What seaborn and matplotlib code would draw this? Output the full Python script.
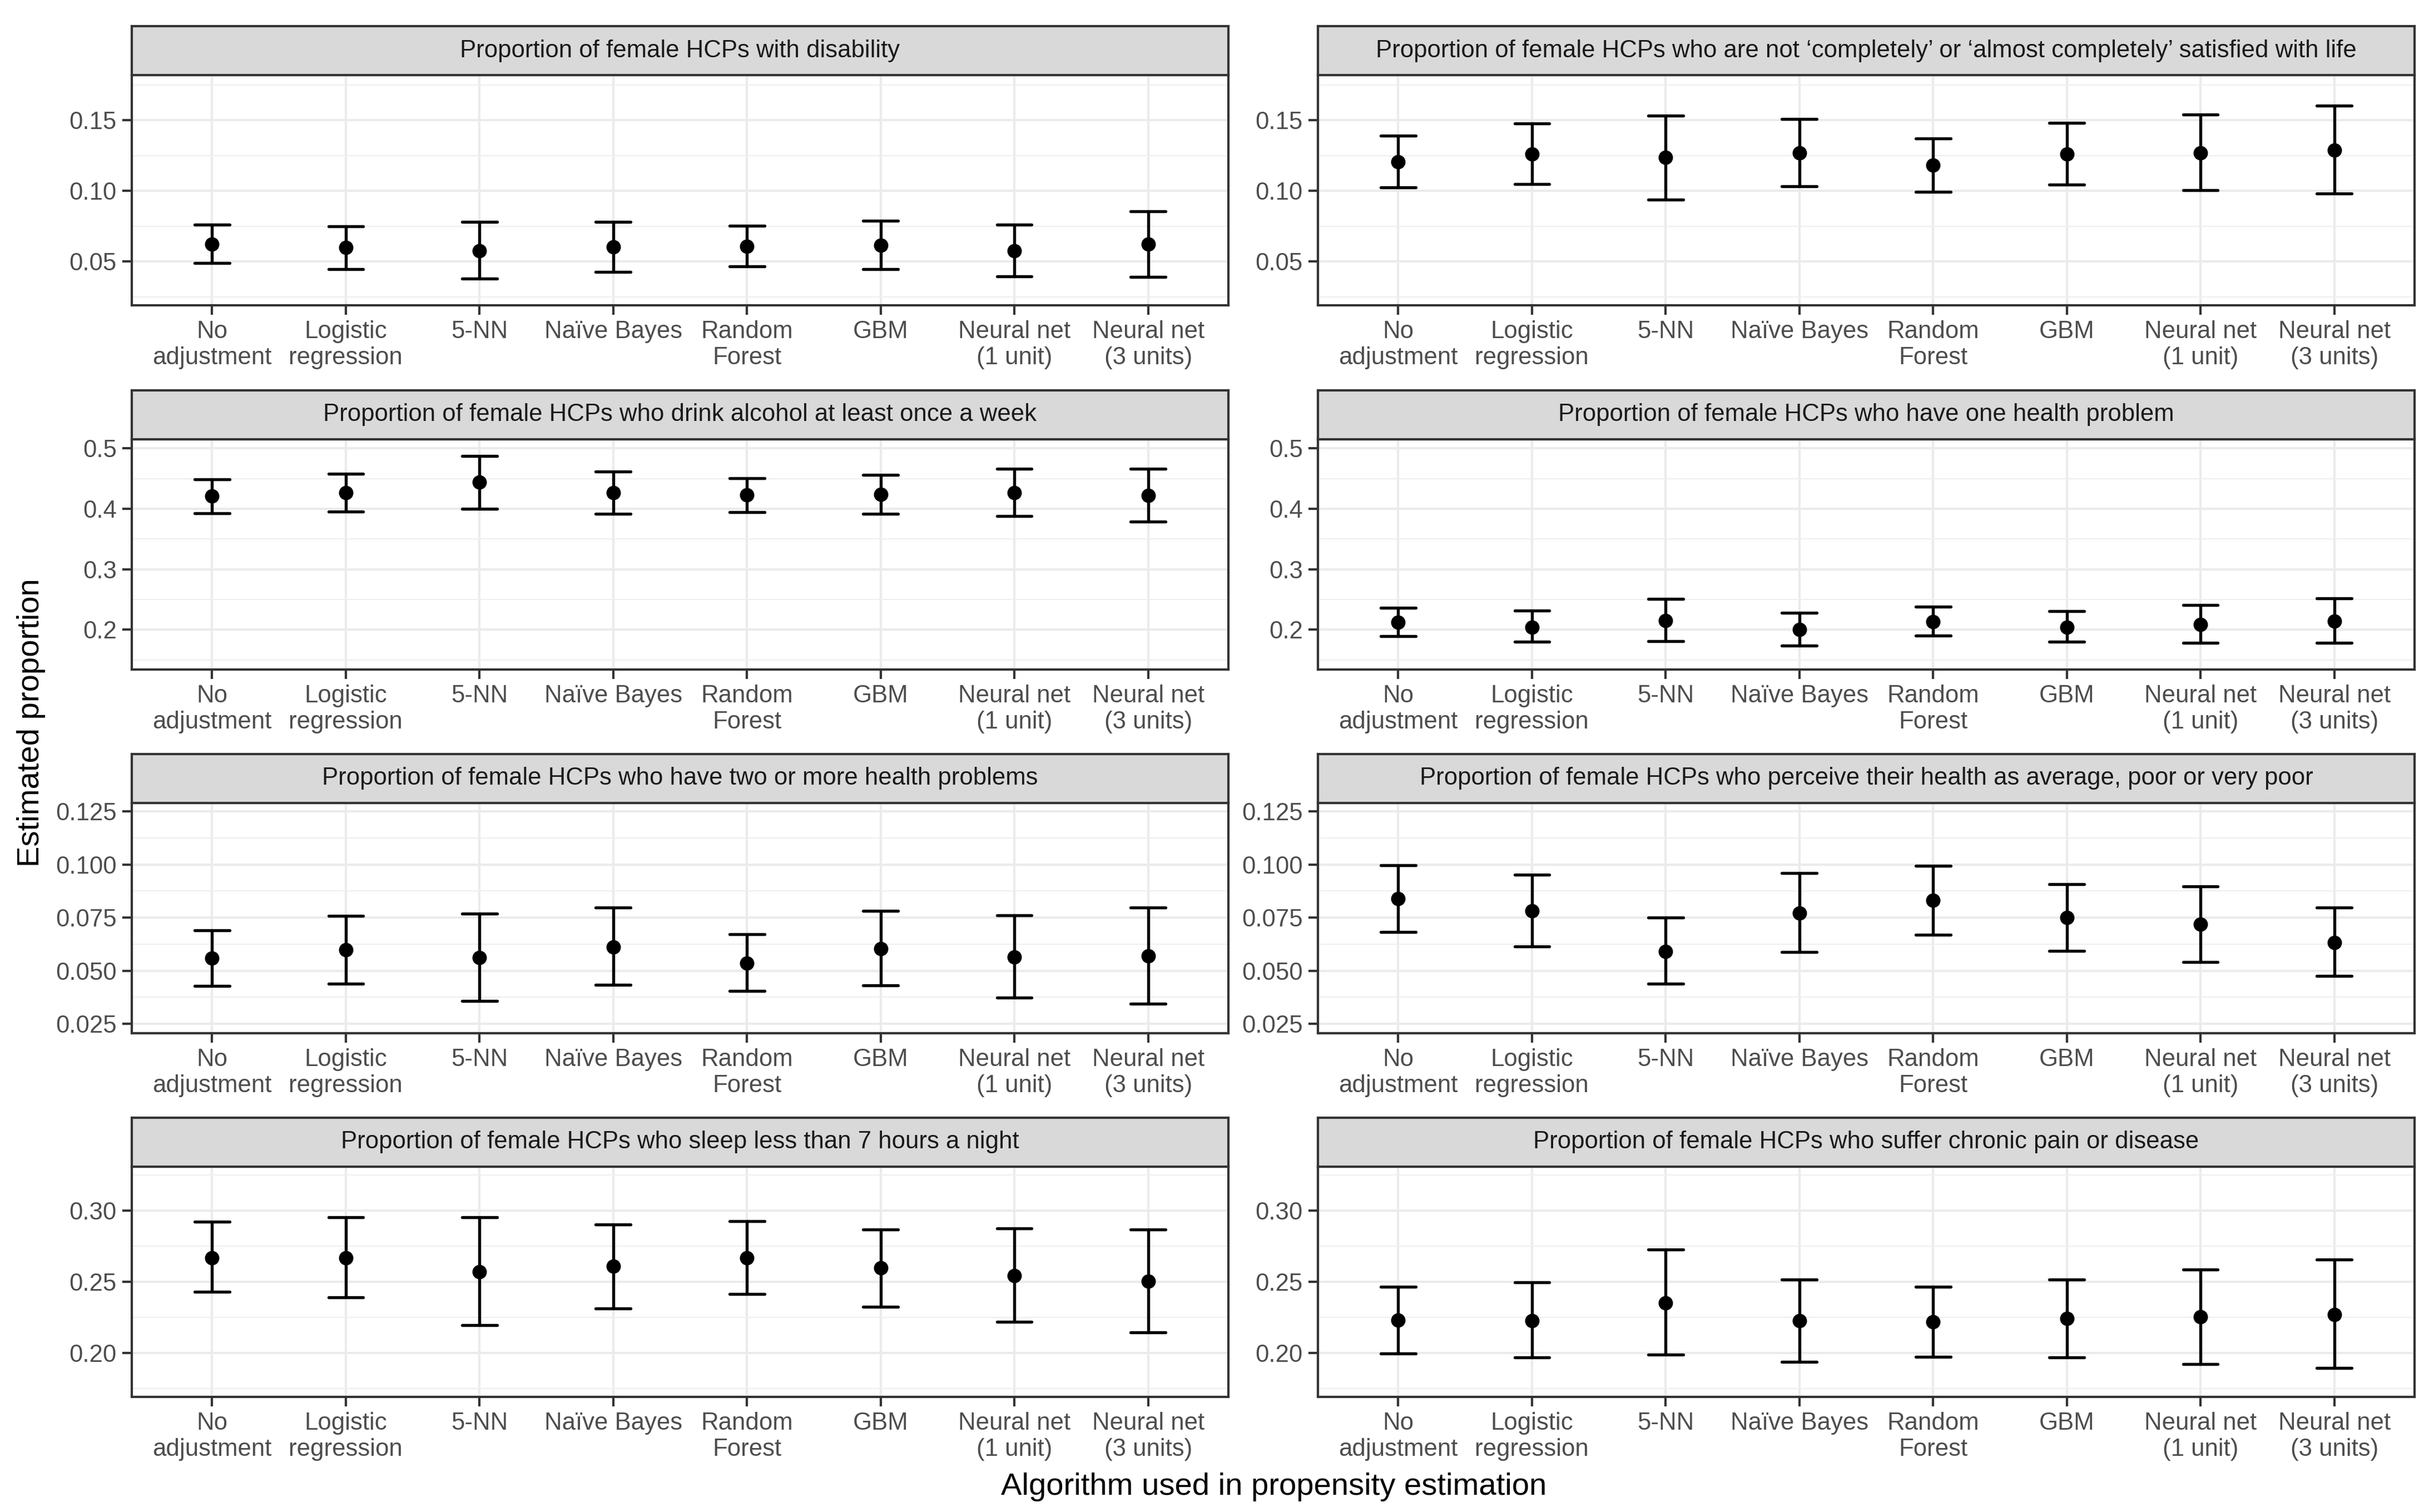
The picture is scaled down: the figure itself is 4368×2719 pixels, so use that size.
import pandas as pd
import seaborn as sns
import matplotlib.pyplot as plt
from matplotlib.ticker import FixedLocator

# x categories (shown in this order in every panel)
methods = ["No\nadjustment", "Logistic\nregression", "5-NN", "Naïve Bayes",
           "Random\nForest", "GBM", "Neural net\n(1 unit)", "Neural net\n(3 units)"]

titles = [
    "Proportion of female HCPs with disability",
    "Proportion of female HCPs who are not \u2018completely\u2019 or \u2018almost completely\u2019 satisfied with life",
    "Proportion of female HCPs who drink alcohol at least once a week",
    "Proportion of female HCPs who have one health problem",
    "Proportion of female HCPs who have two or more health problems",
    "Proportion of female HCPs who perceive their health as average, poor or very poor",
    "Proportion of female HCPs who sleep less than 7 hours a night",
    "Proportion of female HCPs who suffer chronic pain or disease",
]

# estimates and interval bounds
disability_est = [0.0625, 0.0599, 0.0577, 0.0602, 0.0607, 0.0616, 0.0577, 0.0625]
disability_lo = [0.0488, 0.0444, 0.0379, 0.0426, 0.0467, 0.0444, 0.0396, 0.0391]
disability_hi = [0.0762, 0.0748, 0.0780, 0.0780, 0.0752, 0.0787, 0.0762, 0.0854]

satisfied_est = [0.1206, 0.1259, 0.1236, 0.1268, 0.1183, 0.1259, 0.1268, 0.1289]
satisfied_lo = [0.1026, 0.1048, 0.0940, 0.1033, 0.0995, 0.1046, 0.1004, 0.0982]
satisfied_hi = [0.1390, 0.1479, 0.1532, 0.1509, 0.1370, 0.1482, 0.1540, 0.1602]

alcohol_est = [0.421, 0.427, 0.444, 0.427, 0.423, 0.424, 0.427, 0.422]
alcohol_lo = [0.393, 0.395, 0.400, 0.392, 0.394, 0.392, 0.388, 0.379]
alcohol_hi = [0.449, 0.458, 0.487, 0.462, 0.451, 0.456, 0.466, 0.466]

one_problem_est = [0.212, 0.204, 0.215, 0.200, 0.213, 0.204, 0.209, 0.214]
one_problem_lo = [0.189, 0.180, 0.181, 0.174, 0.190, 0.180, 0.178, 0.178]
one_problem_hi = [0.236, 0.232, 0.251, 0.228, 0.238, 0.231, 0.241, 0.252]

two_problems_est = [0.0559, 0.0598, 0.0562, 0.0612, 0.0537, 0.0603, 0.0564, 0.0570]
two_problems_lo = [0.0429, 0.0440, 0.0359, 0.0433, 0.0406, 0.0431, 0.0373, 0.0346]
two_problems_hi = [0.0690, 0.0759, 0.0770, 0.0798, 0.0673, 0.0781, 0.0761, 0.0798]

poor_health_est = [0.0839, 0.0781, 0.0592, 0.0772, 0.0831, 0.0751, 0.0718, 0.0634]
poor_health_lo = [0.0683, 0.0614, 0.0440, 0.0587, 0.0670, 0.0594, 0.0540, 0.0476]
poor_health_hi = [0.0998, 0.0953, 0.0750, 0.0959, 0.0994, 0.0909, 0.0898, 0.0798]

sleep_est = [0.2668, 0.2668, 0.2572, 0.2608, 0.2668, 0.2599, 0.2545, 0.2504]
sleep_lo = [0.2428, 0.2392, 0.2195, 0.2312, 0.2414, 0.2324, 0.2217, 0.2145]
sleep_hi = [0.2921, 0.2955, 0.2955, 0.2903, 0.2925, 0.2867, 0.2876, 0.2867]

chronic_est = [0.2231, 0.2226, 0.2351, 0.2226, 0.2220, 0.2240, 0.2253, 0.2271]
chronic_lo = [0.1996, 0.1966, 0.1987, 0.1935, 0.1973, 0.1969, 0.1920, 0.1894]
chronic_hi = [0.2464, 0.2498, 0.2728, 0.2516, 0.2464, 0.2516, 0.2588, 0.2656]

panels = [
    (disability_est, disability_lo, disability_hi),
    (satisfied_est, satisfied_lo, satisfied_hi),
    (alcohol_est, alcohol_lo, alcohol_hi),
    (one_problem_est, one_problem_lo, one_problem_hi),
    (two_problems_est, two_problems_lo, two_problems_hi),
    (poor_health_est, poor_health_lo, poor_health_hi),
    (sleep_est, sleep_lo, sleep_hi),
    (chronic_est, chronic_lo, chronic_hi),
]

# y axis per row (rows share scale)
row_ticks = [[0.05, 0.10, 0.15], [0.2, 0.3, 0.4, 0.5],
             [0.025, 0.050, 0.075, 0.100, 0.125], [0.20, 0.25, 0.30]]
row_labels = [["0.05", "0.10", "0.15"], ["0.2", "0.3", "0.4", "0.5"],
              ["0.025", "0.050", "0.075", "0.100", "0.125"], ["0.20", "0.25", "0.30"]]
row_lims = [(0.019, 0.182), (0.134, 0.515), (0.0206, 0.129), (0.169, 0.331)]

# long table: lower bound, estimate, upper bound as three rows per method;
# pointplot with median + 100% percentile interval reproduces est and [lo, hi]
rows = []
for title, (est, lo, hi) in zip(titles, panels):
    for m, e, l, h in zip(methods, est, lo, hi):
        for v in (l, e, h):
            rows.append({"panel": title, "method": m, "value": v})
df = pd.DataFrame(rows)

sns.set_theme(style="white")
plt.rcParams['font.family'] = ['Liberation Sans', 'DejaVu Sans']

W, H = 4368, 2719
fig = plt.figure(figsize=(W / 300, H / 300), dpi=300)


def px_axes(left, top, width, height):
    return fig.add_axes([left / W, 1 - (top + height) / H, width / W, height / H])


col_left = [237, 2370]
col_w = 1972
strip_top = [47, 702, 1356, 2010]
strip_h = 88
panel_h = 414
edge = "#333333"

for i, title in enumerate(titles):
    r, c = divmod(i, 2)
    ax = px_axes(col_left[c], strip_top[r] + strip_h, col_w, panel_h)
    sub = df[df["panel"] == title]
    sns.pointplot(data=sub, x="method", y="value", order=methods,
                  estimator="median", errorbar=("pi", 100), capsize=0.26,
                  color="black", linestyle="none", markersize=4.2,
                  err_kws={"linewidth": 1.3, "color": "black"}, ax=ax)
    ax.set_xlim(-0.6, 7.6)
    ax.set_ylim(*row_lims[r])
    ax.set_yticks(row_ticks[r])
    ax.set_yticklabels(row_labels[r])
    t = row_ticks[r]
    step = t[1] - t[0]
    minors = [t[0] - step / 2] + [v + step / 2 for v in t]
    ax.yaxis.set_minor_locator(FixedLocator(minors))
    ax.set_axisbelow(True)
    ax.grid(True, which="major", axis="both", color="#EBEBEB", linewidth=1.0)
    ax.grid(True, which="minor", axis="y", color="#EFEFEF", linewidth=0.5)
    ax.set_xlabel("")
    ax.set_ylabel("")
    for s in ax.spines.values():
        s.set_visible(True)
        s.set_color(edge)
        s.set_linewidth(1.0)
    ax.tick_params(axis="both", which="major", length=4, width=1.0, color=edge,
                   labelsize=10.5, labelcolor="#4D4D4D", pad=2.5,
                   bottom=True, left=True)
    ax.tick_params(axis="y", which="minor", length=0)

    # facet strip
    sax = px_axes(col_left[c], strip_top[r], col_w, strip_h)
    sax.set_facecolor("#D9D9D9")
    sax.set_xticks([])
    sax.set_yticks([])
    for s in sax.spines.values():
        s.set_visible(True)
        s.set_color(edge)
        s.set_linewidth(1.0)
    sax.text(0.5, 0.5, title, ha="center", va="center", fontsize=10.5,
             color="#1A1A1A", transform=sax.transAxes)

fig.text(2291 / W, 1 - 2674 / H, "Algorithm used in propensity estimation",
         ha="center", va="center", fontsize=13.5, color="black")
fig.text(56 / W, 1 - 1300 / H, "Estimated proportion", ha="center", va="center",
         rotation=90, fontsize=13.5, color="black")

fig.savefig("out.png", dpi=300)
